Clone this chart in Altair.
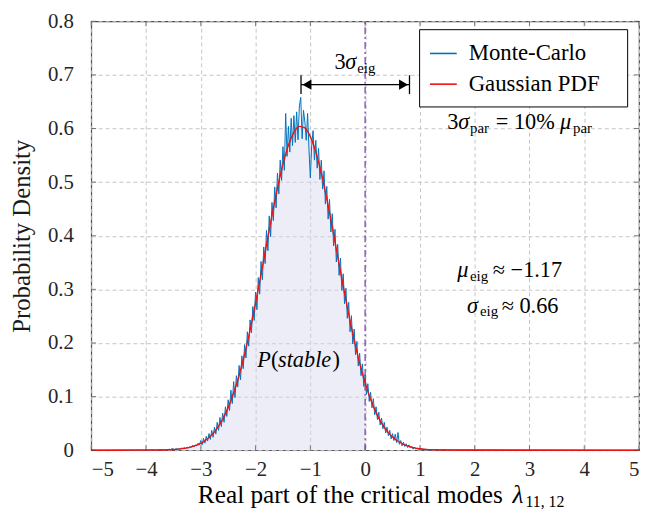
import altair as alt
import numpy as np
import pandas as pd

FONT = "Liberation Serif"

# ---------------- data ----------------
# Monte-Carlo histogram density, bins every 0.025 starting at -3.6
mc_start = -3.6
mc_step = 0.025
mc_density = [
    0.001, 0.002, 0.001, 0.003, 0.002, 0.001, 0.003, 0.002,
    0.003, 0.002, 0.004, 0.003, 0.005, 0.003, 0.006, 0.004,
    0.007, 0.005, 0.009, 0.006, 0.010, 0.008, 0.013, 0.010,
    0.018, 0.010, 0.022, 0.013, 0.026, 0.017, 0.031, 0.020,
    0.037, 0.024, 0.043, 0.030, 0.052, 0.037, 0.061, 0.044,
    0.069, 0.052, 0.081, 0.063, 0.094, 0.074, 0.112, 0.087,
    0.128, 0.098, 0.139, 0.118, 0.158, 0.131, 0.176, 0.152,
    0.197, 0.172, 0.221, 0.194, 0.243, 0.219, 0.268, 0.242,
    0.295, 0.262, 0.322, 0.291, 0.352, 0.318, 0.379, 0.348,
    0.410, 0.372, 0.437, 0.398, 0.462, 0.428, 0.491, 0.452,
    0.517, 0.478, 0.541, 0.503, 0.566, 0.522, 0.628, 0.548,
    0.604, 0.556, 0.619, 0.568, 0.624, 0.574, 0.631, 0.579,
    0.642, 0.658, 0.581, 0.634, 0.612, 0.578, 0.628, 0.562,
    0.508, 0.569, 0.596, 0.541, 0.578, 0.526, 0.563, 0.505,
    0.541, 0.487, 0.521, 0.459, 0.492, 0.431, 0.468, 0.407,
    0.441, 0.381, 0.412, 0.351, 0.384, 0.326, 0.358, 0.298,
    0.329, 0.273, 0.302, 0.246, 0.276, 0.221, 0.251, 0.198,
    0.226, 0.178, 0.203, 0.157, 0.181, 0.139, 0.161, 0.119,
    0.141, 0.104, 0.124, 0.091, 0.108, 0.079, 0.096, 0.066,
    0.081, 0.057, 0.071, 0.047, 0.060, 0.040, 0.052, 0.032,
    0.043, 0.027, 0.037, 0.021, 0.031, 0.018, 0.030, 0.014,
    0.033, 0.011, 0.018, 0.008, 0.015, 0.007, 0.012, 0.005,
    0.010, 0.004, 0.007, 0.002, 0.006, 0.002, 0.004, 0.001,
    0.003, 0.001, 0.002, 0.001, 0.002, 0.000, 0.001, 0.000,
    0.001,
]

# Gaussian PDF read every 0.1 from -4.0 to 1.6
gauss_start = -4.0
gauss_step = 0.1
gauss_density = [
    0.0001, 0.0001, 0.0002, 0.0004, 0.0007, 0.0012, 0.0020, 0.0033, 0.0053, 0.0084,
    0.0129, 0.0195, 0.0286, 0.0412, 0.0578, 0.0794, 0.1065, 0.1396, 0.1789, 0.2240,
    0.2741, 0.3279, 0.3833, 0.4379, 0.4889, 0.5335, 0.5689, 0.5929, 0.6039, 0.6011,
    0.5848, 0.5560, 0.5166, 0.4691, 0.4163, 0.3611, 0.3061, 0.2536, 0.2053, 0.1624,
    0.1256, 0.0949, 0.0701, 0.0506, 0.0357, 0.0246, 0.0166, 0.0109, 0.0070, 0.0044,
    0.0027, 0.0016, 0.0010, 0.0005, 0.0003, 0.0002, 0.0001,
]

x_ticks = [-5, -4, -3, -2, -1, 0, 1, 2, 3, 4, 5]
y_ticks = [0, 0.1, 0.2, 0.3, 0.4, 0.5, 0.6, 0.7, 0.8]

mu_eig = -1.17
sigma_eig = 0.66
arrow_y = 0.6818
stable_limit = 0.0

# ---------------- tables ----------------
mc_x = [-5.0] + [round(mc_start + mc_step * i, 3) for i in range(len(mc_density))] + [5.0]
mc_y = [0.0] + mc_density + [0.0]
mc_df = pd.DataFrame({"x": mc_x, "y": mc_y, "series": "Monte-Carlo"})

g_x = [-5.0, -4.5] + [round(gauss_start + gauss_step * i, 2) for i in range(len(gauss_density))] + [2.0, 3.0, 4.0, 5.0]
g_y = [0.0, 0.0] + gauss_density + [0.0, 0.0, 0.0, 0.0]
g_df = pd.DataFrame({"x": g_x, "y": g_y, "series": "Gaussian PDF"})
area_df = g_df[g_df["x"] <= stable_limit]

xs = alt.Scale(domain=[-5, 5], nice=False, zero=False)
ys = alt.Scale(domain=[0, 0.8], nice=False, zero=False)

color_scale = alt.Scale(domain=["Monte-Carlo", "Gaussian PDF"], range=["#0072BD", "#ee1111"])

X = alt.X("x:Q", scale=xs, axis=alt.Axis(values=x_ticks, format="d", title=""))
Y = alt.Y("y:Q", scale=ys, axis=alt.Axis(values=y_ticks, title="Probability Density",
                                          labelExpr="datum.value == 0 ? '0' : format(datum.value, '.1f')"))

area = alt.Chart(area_df).mark_area(color="#d6d6f0", opacity=0.45, interpolate="monotone").encode(x=X, y=Y)

mc_line = alt.Chart(mc_df).mark_line(strokeWidth=1.0).encode(
    x=X, y=Y,
    color=alt.Color("series:N", scale=color_scale,
                    legend=alt.Legend(title=None, orient="none", legendX=331, legendY=8,
                                      labelExpr="datum.label + '\u2800'", labelLimit=400)),
)
g_line = alt.Chart(g_df).mark_line(strokeWidth=1.4, interpolate="monotone").encode(
    x=X, y=Y, color=alt.Color("series:N", scale=color_scale)
)

vline = alt.Chart(pd.DataFrame({"x": [stable_limit], "y": [0.0], "y2": [0.8]})).mark_rule(
    color="#7a2fb0", strokeWidth=1.2, strokeDash=[7, 3, 2, 3]
).encode(x=alt.X("x:Q", scale=xs), y=alt.Y("y:Q", scale=ys), y2="y2:Q")

# inward ticks on all four sides
xt = pd.DataFrame({"v": x_ticks})
yt = pd.DataFrame({"v": y_ticks})
tick_color = "#4d4d4d"
t_bottom = alt.Chart(xt).mark_tick(orient="vertical", size=5, thickness=1, color=tick_color, yOffset=-2.5).encode(
    x=alt.X("v:Q", scale=xs), y=alt.datum(0))
t_top = alt.Chart(xt).mark_tick(orient="vertical", size=5, thickness=1, color=tick_color, yOffset=2.5).encode(
    x=alt.X("v:Q", scale=xs), y=alt.datum(0.8))
t_left = alt.Chart(yt).mark_tick(orient="horizontal", size=5, thickness=1, color=tick_color, xOffset=2.5).encode(
    y=alt.Y("v:Q", scale=ys), x=alt.datum(-5))
t_right = alt.Chart(yt).mark_tick(orient="horizontal", size=5, thickness=1, color=tick_color, xOffset=-2.5).encode(
    y=alt.Y("v:Q", scale=ys), x=alt.datum(5))

# 3 sigma arrow
arrow_df = pd.DataFrame({"x": [mu_eig], "x2": [mu_eig + 3 * sigma_eig], "y": [arrow_y]})
arrow = alt.Chart(arrow_df).mark_rule(color="black", strokeWidth=1.3).encode(
    x=alt.X("x:Q", scale=xs), x2="x2:Q", y=alt.Y("y:Q", scale=ys))
ends_df = pd.DataFrame({"x": [mu_eig, mu_eig + 3 * sigma_eig], "y": [arrow_y - 0.0176] * 2, "y2": [arrow_y + 0.0176] * 2})
ends = alt.Chart(ends_df).mark_rule(color="black", strokeWidth=1.3).encode(
    x=alt.X("x:Q", scale=xs), y=alt.Y("y:Q", scale=ys), y2="y2:Q")
head_l = alt.Chart(pd.DataFrame({"x": [mu_eig], "y": [arrow_y]})).mark_point(
    shape="triangle-left", filled=True, size=110, color="black", opacity=1, xOffset=6).encode(
    x=alt.X("x:Q", scale=xs), y=alt.Y("y:Q", scale=ys))
head_r = alt.Chart(pd.DataFrame({"x": [mu_eig + 3 * sigma_eig], "y": [arrow_y]})).mark_point(
    shape="triangle-right", filled=True, size=110, color="black", opacity=1, xOffset=-6).encode(
    x=alt.X("x:Q", scale=xs), y=alt.Y("y:Q", scale=ys))

# text fragments (left aligned, alphabetic baseline)
upright = pd.DataFrame([
    ("3", -0.56, 0.7113, 22.5),
    ("eig", -0.145, 0.7039, 15),
    ("3", 1.50, 0.5986, 22.5),
    ("par", 1.915, 0.5912, 15),
    ("= 10%", 2.385, 0.5986, 22.5),
    ("par", 3.794, 0.5912, 15),
    ("eig", 1.915, 0.3159, 15),
    ("\u2248 \u22121.17", 2.331, 0.3233, 22.5),
    ("eig", 2.096, 0.2494, 15),
    ("\u2248 0.66", 2.493, 0.2568, 22.5),
    ("(", -1.716, 0.1552, 22.5),
    (")", -0.596, 0.1552, 22.5),
    ("Real part of the critical modes", -3.053, -0.0979, 25.5),
    ("11, 12", 2.927, -0.1053, 16),
], columns=["t", "x", "y", "s"])
italic = pd.DataFrame([
    ("\u03c3", -0.361, 0.7113, 22.5),
    ("\u03c3", 1.698, 0.5986, 22.5),
    ("\u03bc", 3.559, 0.5986, 22.5),
    ("\u03bc", 1.680, 0.3233, 22.5),
    ("\u03c3", 1.861, 0.2568, 22.5),
    ("P", -1.969, 0.1552, 22.5),
    ("stable", -1.590, 0.1552, 22.5),
    ("\u03bb", 2.692, -0.0979, 25.5),
], columns=["t", "x", "y", "s"])

txt_up = alt.Chart(upright).mark_text(align="left", baseline="alphabetic", color="black", font=FONT).encode(
    x=alt.X("x:Q", scale=xs), y=alt.Y("y:Q", scale=ys), text="t:N", size=alt.Size("s:Q", scale=None))
txt_it = alt.Chart(italic).mark_text(align="left", baseline="alphabetic", color="black", font=FONT,
                                     fontStyle="italic").encode(
    x=alt.X("x:Q", scale=xs), y=alt.Y("y:Q", scale=ys), text="t:N", size=alt.Size("s:Q", scale=None))

chart = alt.layer(
    area, vline, mc_line, g_line, t_bottom, t_top, t_left, t_right,
    arrow, ends, head_l, head_r, txt_up, txt_it,
).properties(
    width=553, height=433,
    autosize=alt.AutoSizeParams(type="none"),
    padding={"left": 84, "top": 11, "right": 2, "bottom": 60},
).configure(
    font=FONT,
).configure_view(
    stroke="#4d4d4d", strokeWidth=1.2,
).configure_axis(
    domain=False, ticks=False, tickSize=0,
    grid=True, gridDash=[4, 3], gridColor="#c4c4c4", gridWidth=1,
    labelFont=FONT, labelFontSize=21, labelColor="#262626",
    titleFont=FONT, titleFontSize=25, titleFontWeight="normal", titleColor="#1a1a1a",
).configure_axisX(
    labelPadding=9,
).configure_axisY(
    labelPadding=18, titlePadding=13,
).configure_legend(
    strokeColor="black", strokeWidth=1, fillColor="white", padding=10, cornerRadius=0,
    labelFont=FONT, labelFontSize=23, labelColor="black", labelOffset=11,
    symbolType="stroke", symbolStrokeWidth=1.6, symbolSize=729, rowPadding=4,
)

chart.save("out.html", embed_options={"renderer": "svg", "actions": False})
